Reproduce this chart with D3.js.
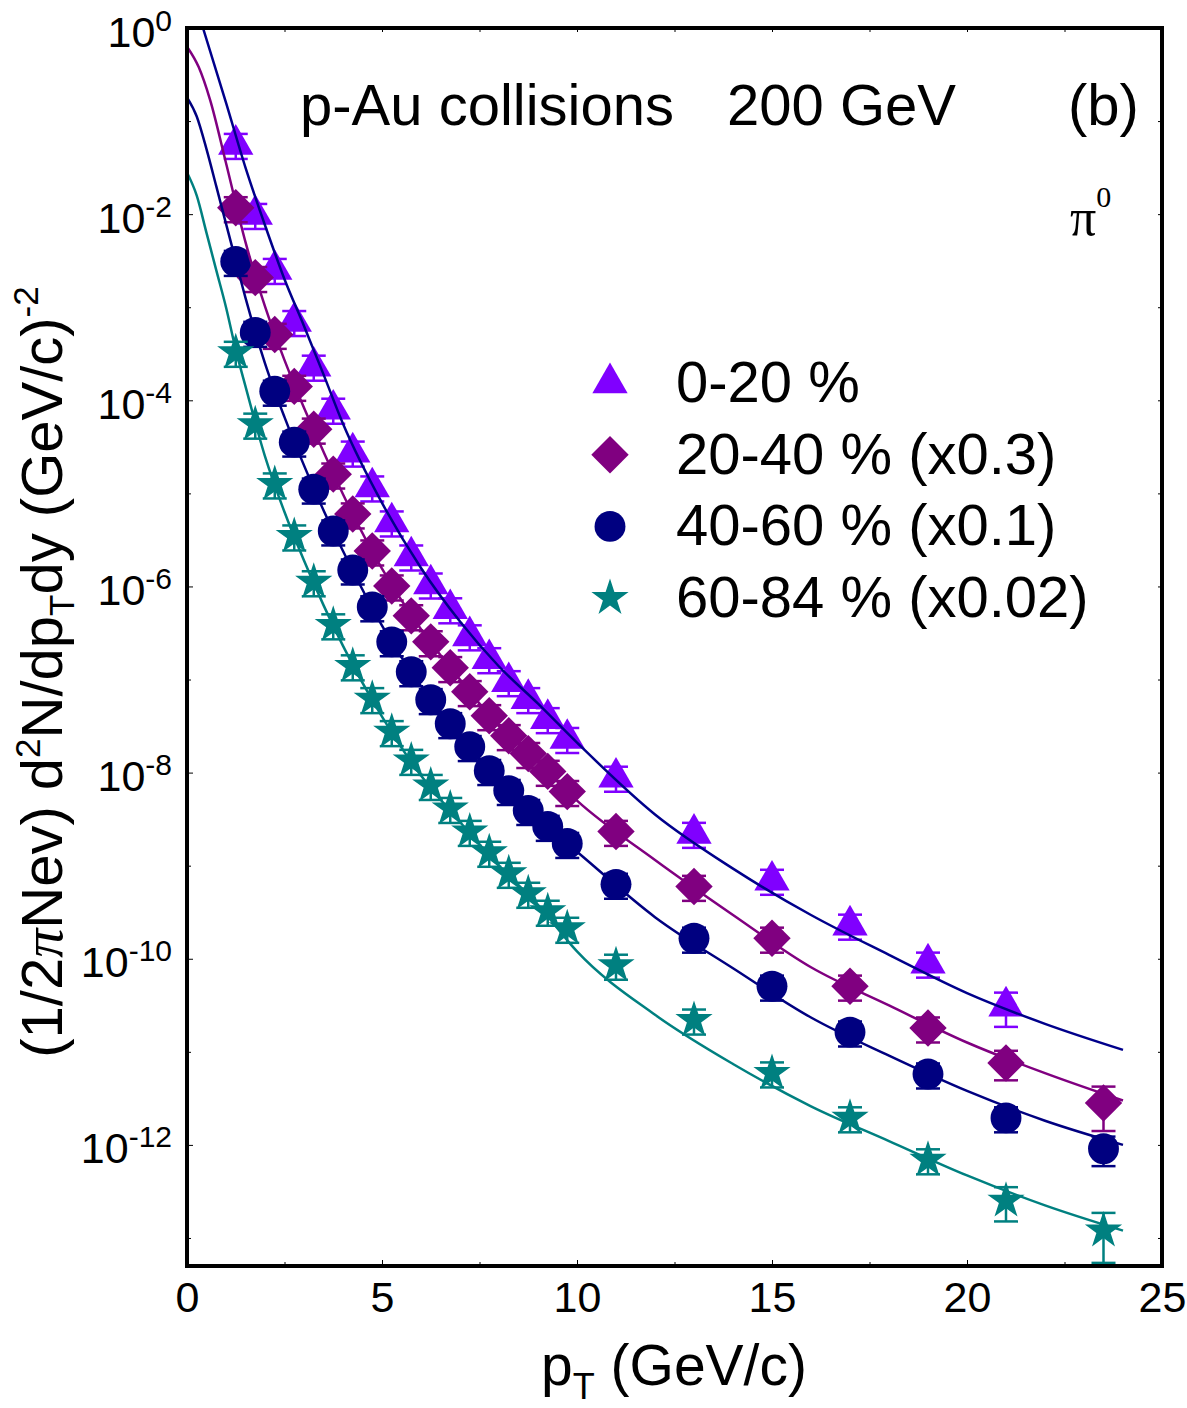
<!DOCTYPE html>
<html>
<head>
<meta charset="utf-8">
<script src="https://cdn.jsdelivr.net/npm/d3@7"></script>
<style>
  html, body { margin: 0; padding: 0; background: #fff; }
  svg { display: block; font-family: 'Liberation Sans', Arial, Helvetica, sans-serif; }
</style>
</head>
<body>
<svg id="chart" width="1187" height="1408"></svg>
<script>
// pT bin centres (GeV/c), shared by all four centrality classes
const ptBins = [1.25, 1.75, 2.25, 2.75, 3.25, 3.75, 4.25, 4.75, 5.25, 5.75, 6.25, 6.75, 7.25, 7.75, 8.25, 8.75, 9.25, 9.75, 11, 13, 15, 17, 19, 21, 23.5]

// invariant yields, already scaled as in the legend (null = no point)
const yield0020 = [5.6e-2, 9.9e-3, 2.54e-3, 7.0e-4, 2.32e-4, 8.0e-5, 2.77e-5, 1.17e-5, 4.92e-6, 2.12e-6, 1.06e-6, 5.74e-7, 2.94e-7, 1.67e-7, 9.46e-8, 6.22e-8, 3.79e-8, 2.32e-8, 8.9e-9, 2.22e-9, 6.95e-10, 2.29e-10, 8.95e-11, 3.09e-11, null]
const yield2040 = [1.17e-2, 2.08e-3, 5.1e-4, 1.41e-4, 4.89e-5, 1.61e-5, 6.0e-6, 2.4e-6, 1.01e-6, 4.83e-7, 2.54e-7, 1.34e-7, 7.4e-8, 4.08e-8, 2.49e-8, 1.6e-8, 1.03e-8, 6.25e-9, 2.33e-9, 5.98e-10, 1.66e-10, 5.07e-11, 1.8e-11, 7.6e-12, 2.82e-12]
const yield4060 = [3.1e-3, 5.36e-4, 1.25e-4, 3.55e-5, 1.11e-5, 3.94e-6, 1.5e-6, 6.03e-7, 2.54e-7, 1.21e-7, 6.07e-8, 3.35e-8, 1.9e-8, 1.05e-8, 6.41e-9, 3.91e-9, 2.64e-9, 1.73e-9, 6.3e-10, 1.66e-10, 5.07e-11, 1.63e-11, 5.77e-12, 1.95e-12, 9.1e-13]
const yield6084 = [3.27e-4, 5.53e-5, 1.26e-5, 3.48e-6, 1.12e-6, 3.86e-7, 1.4e-7, 6.22e-8, 2.75e-8, 1.35e-8, 7.26e-9, 4.11e-9, 2.33e-9, 1.39e-9, 8.26e-10, 5.04e-10, 3.23e-10, 2.12e-10, 8.5e-11, 2.19e-11, 5.92e-12, 1.95e-12, 6.9e-13, 2.51e-13, 1.2e-13]

// relative errors per point
const err0020 = [0.3, 0.3, 0.3, 0.3, 0.3, 0.3, 0.3, 0.3, 0.3, 0.3, 0.3, 0.3, 0.3, 0.3, 0.3, 0.3, 0.3, 0.3, 0.3, 0.3, 0.3, 0.3, 0.3, 0.4, null]
const err2040 = [0.3, 0.3, 0.3, 0.3, 0.3, 0.3, 0.3, 0.3, 0.3, 0.3, 0.3, 0.3, 0.3, 0.3, 0.3, 0.3, 0.3, 0.3, 0.3, 0.3, 0.3, 0.3, 0.3, 0.35, 0.5]
const err4060 = [0.3, 0.3, 0.3, 0.3, 0.3, 0.3, 0.3, 0.3, 0.3, 0.3, 0.3, 0.3, 0.3, 0.3, 0.3, 0.3, 0.3, 0.3, 0.3, 0.3, 0.3, 0.3, 0.3, 0.3, 0.35]
const err6084 = [0.3, 0.3, 0.3, 0.3, 0.3, 0.3, 0.3, 0.3, 0.3, 0.3, 0.3, 0.3, 0.3, 0.3, 0.3, 0.3, 0.3, 0.3, 0.3, 0.3, 0.3, 0.3, 0.3, 0.4, 0.55]

// fit curves
const fitPtA = [0.41, 1, 1.5, 2, 2.5, 3, 3.5, 4, 5, 6, 7, 8, 9, 10, 12, 14, 16, 18, 20, 22, 24]
const fitA = [1, 0.158, 3.16e-2, 7.6e-3, 2.0e-3, 6.3e-4, 1.9e-4, 5.6e-5, 7.9e-6, 1.58e-6, 4.2e-7, 1.38e-7, 5.5e-8, 2.1e-8, 3.55e-9, 9.3e-10, 2.95e-10, 1.1e-10, 4.27e-11, 2.0e-11, 1.05e-11]
const fitPtB = [0, 0.3, 0.59, 1, 1.5, 2, 2.5, 3, 3.5, 4, 5, 6, 7, 8, 9, 10, 12, 14, 16, 18, 20, 22, 24]
const fitB = [0.63, 0.38, 0.17, 3.55e-2, 5.0e-3, 1.02e-3, 2.7e-4, 8.3e-5, 2.8e-5, 9.8e-6, 1.55e-6, 3.47e-7, 1.0e-7, 3.16e-8, 1.29e-8, 5.0e-9, 1.15e-9, 2.95e-10, 8.1e-11, 3.16e-11, 1.26e-11, 5.9e-12, 3.0e-12]
const fitPtCD = [0, 0.25, 0.5, 0.75, 1, 1.25, 1.5, 2, 2.5, 3, 3.5, 4, 5, 6, 7, 8, 9, 10, 12, 14, 16, 18, 20, 22, 24]
const fitC = [0.18, 0.112, 5.0e-2, 2.0e-2, 7.9e-3, 3.16e-3, 1.26e-3, 2.5e-4, 6.6e-5, 2.0e-5, 6.6e-6, 2.4e-6, 3.8e-7, 8.5e-8, 2.5e-8, 8.1e-9, 3.16e-9, 1.41e-9, 2.8e-10, 7.9e-11, 2.34e-11, 9.1e-12, 3.8e-12, 1.82e-12, 1.0e-12]
const fitD = [2.8e-2, 1.58e-2, 6.3e-3, 2.5e-3, 1.0e-3, 3.5e-4, 1.41e-4, 2.5e-5, 6.3e-6, 1.9e-6, 6.3e-7, 2.3e-7, 4.0e-8, 9.3e-9, 2.95e-9, 1.0e-9, 3.8e-10, 1.2e-10, 2.5e-11, 7.4e-12, 2.6e-12, 1.1e-12, 4.7e-13, 2.24e-13, 1.2e-13]

const legendLabels = ['0-20 %', '20-40 % (x0.3)', '40-60 % (x0.1)', '60-84 % (x0.02)']
const xTicks = [0, 5, 10, 15, 20, 25]
const xMinor = [2.5, 7.5, 12.5, 17.5, 22.5]
const yExponents = [0, -2, -4, -6, -8, -10, -12]
const yMinorExp = [-1, -3, -5, -7, -9, -11, -13]

// styles
const markColors = ['#8000ff', '#800080', '#000080', '#008080']
const fitColors = ['#00008b', '#800080', '#000080', '#008080']
const symbols = [
  d3.symbol(d3.symbolTriangle, 540),
  d3.symbol(d3.symbolSquare, 700),
  d3.symbol(d3.symbolCircle, 750),
  d3.symbol(d3.symbolStar, 430)
]
const symRotate = [0, 45, 0, 0]

const series = [
  { vals: yield0020, errs: err0020 },
  { vals: yield2040, errs: err2040 },
  { vals: yield4060, errs: err4060 },
  { vals: yield6084, errs: err6084 }
]
const fits = [[fitPtA, fitA], [fitPtB, fitB], [fitPtCD, fitC], [fitPtCD, fitD]]

const svg = d3.select('#chart')
const pLeft = 187, pRight = 1162, pTop = 28, pBottom = 1266

const x = d3.scaleLinear().domain([0, 25]).range([pLeft, pRight])
const y = d3.scaleLog().domain([5e-14, 1]).range([pBottom, pTop])

svg.append('defs').append('clipPath').attr('id', 'plot')
  .append('rect').attr('x', pLeft).attr('y', pTop).attr('width', pRight - pLeft).attr('height', pBottom - pTop)

// ── axes: small inward ticks, barely visible in the original ──
const tickStyle = g => {
  g.select('.domain').remove()
  g.selectAll('.tick line').attr('stroke', '#000').attr('stroke-width', 1)
}

svg.append('g').attr('transform', `translate(0,${pBottom})`)
  .call(d3.axisBottom(x).tickValues(xTicks).tickSizeInner(-6).tickSizeOuter(0).tickPadding(15).tickFormat(d3.format('d')))
  .call(tickStyle)
  .call(g => g.selectAll('.tick text').attr('font-size', 43).attr('fill', '#000'))
  .attr('font-family', null)
svg.append('g').attr('transform', `translate(0,${pBottom})`)
  .call(d3.axisBottom(x).tickValues(xMinor).tickSizeInner(-4).tickSizeOuter(0).tickFormat(''))
  .call(tickStyle)
svg.append('g').attr('transform', `translate(0,${pTop})`)
  .call(d3.axisTop(x).tickValues(xTicks.concat(xMinor)).tickSizeInner(-4).tickSizeOuter(0).tickFormat(''))
  .call(tickStyle)

const yAxis = svg.append('g').attr('transform', `translate(${pLeft},0)`)
  .call(d3.axisLeft(y).tickValues(yExponents.map(e => Math.pow(10, e))).tickSizeInner(-6).tickSizeOuter(0).tickPadding(15))
  .call(tickStyle)
  .attr('font-family', null)
yAxis.selectAll('.tick text').each(function (d, i) {
  const t = d3.select(this).text(null).attr('font-size', 43).attr('fill', '#000').attr('dy', 18)
  t.append('tspan').text('10')
  t.append('tspan').attr('font-size', 30).attr('dy', -16).text(yExponents[i])
})
svg.append('g').attr('transform', `translate(${pLeft},0)`)
  .call(d3.axisLeft(y).tickValues(yMinorExp.map(e => Math.pow(10, e))).tickSizeInner(-4).tickSizeOuter(0).tickFormat(''))
  .call(tickStyle)
svg.append('g').attr('transform', `translate(${pRight},0)`)
  .call(d3.axisRight(y).tickValues(yExponents.concat(yMinorExp).map(e => Math.pow(10, e))).tickSizeInner(-4).tickSizeOuter(0).tickFormat(''))
  .call(tickStyle)

// ── data points with error bars ──
const plot = svg.append('g').attr('clip-path', 'url(#plot)')

series.forEach((s, si) => {
  const pts = ptBins.map((pt, i) => ({ pt, v: s.vals[i], e: s.errs[i] })).filter(p => p.v != null)
  const g = plot.append('g')
  g.selectAll('path.mark').data(pts).join('path')
    .attr('class', 'mark')
    .attr('d', symbols[si])
    .attr('transform', p => `translate(${x(p.pt)},${y(p.v)}) rotate(${symRotate[si]})`)
    .attr('fill', markColors[si])
  const eb = g.selectAll('g.err').data(pts).join('g').attr('class', 'err')
    .attr('stroke', markColors[si]).attr('stroke-width', 2.5)
  eb.append('line')
    .attr('x1', p => x(p.pt)).attr('x2', p => x(p.pt))
    .attr('y1', p => y(p.v * (1 + p.e))).attr('y2', p => y(p.v * (1 - p.e)))
  eb.append('line')
    .attr('x1', p => x(p.pt) - 12).attr('x2', p => x(p.pt) + 12)
    .attr('y1', p => y(p.v * (1 + p.e))).attr('y2', p => y(p.v * (1 + p.e)))
  eb.append('line')
    .attr('x1', p => x(p.pt) - 12).attr('x2', p => x(p.pt) + 12)
    .attr('y1', p => y(p.v * (1 - p.e))).attr('y2', p => y(p.v * (1 - p.e)))
})

// ── fit curves, drawn over the markers as in the original ──
const line = d3.line().x(d => x(d[0])).y(d => y(d[1])).curve(d3.curveMonotoneX)
fits.forEach(([pts, vals], i) => {
  plot.append('path')
    .attr('d', line(pts.map((p, j) => [p, vals[j]])))
    .attr('fill', 'none')
    .attr('stroke', fitColors[i])
    .attr('stroke-width', 2.5)
})

// frame
svg.append('rect')
  .attr('x', pLeft).attr('y', pTop).attr('width', pRight - pLeft).attr('height', pBottom - pTop)
  .attr('fill', 'none').attr('stroke', '#000').attr('stroke-width', 4)

// ── titles ──
svg.append('text').attr('x', 300).attr('y', 125).attr('font-size', 58).text('p-Au collisions')
svg.append('text').attr('x', 727).attr('y', 125).attr('font-size', 58).text('200 GeV')
svg.append('text').attr('x', 1068).attr('y', 125).attr('font-size', 58).text('(b)')
const piLabel = svg.append('text').attr('x', 1070).attr('y', 235)
  .attr('font-family', "'Liberation Serif', 'Times New Roman', serif")
piLabel.append('tspan').attr('font-size', 52).text('π')
piLabel.append('tspan').attr('font-size', 30).attr('dy', -28).text('0')

// legend
const legend = svg.append('g')
legendLabels.forEach((lab, i) => {
  const cy = 383 + i * 71.7
  legend.append('path')
    .attr('d', symbols[i])
    .attr('transform', `translate(610,${cy}) rotate(${symRotate[i]})`)
    .attr('fill', markColors[i])
  legend.append('text').attr('x', 676).attr('y', cy + 19).attr('font-size', 58).text(lab)
})

// x title
const xt = svg.append('text').attr('x', 674).attr('y', 1385).attr('font-size', 57).attr('text-anchor', 'middle')
xt.append('tspan').text('p')
xt.append('tspan').attr('font-size', 36).attr('dy', 14).text('T')
xt.append('tspan').attr('dy', -14).text(' (GeV/c)')

// y title
const yt = svg.append('text').attr('transform', 'translate(62,672) rotate(-90)')
  .attr('font-size', 58).attr('text-anchor', 'middle')
yt.append('tspan').text('(1/2')
yt.append('tspan').attr('font-family', "'Liberation Serif', serif").attr('font-style', 'italic').text('π')
yt.append('tspan').text('Nev) d')
yt.append('tspan').attr('font-size', 35).attr('dy', -22).text('2')
yt.append('tspan').attr('dy', 22).text('N/dp')
yt.append('tspan').attr('font-size', 35).attr('dy', 12).text('T')
yt.append('tspan').attr('dy', -12).text('dy (GeV/c)')
yt.append('tspan').attr('font-size', 35).attr('dy', -24).text('-2')
</script>
</body>
</html>
